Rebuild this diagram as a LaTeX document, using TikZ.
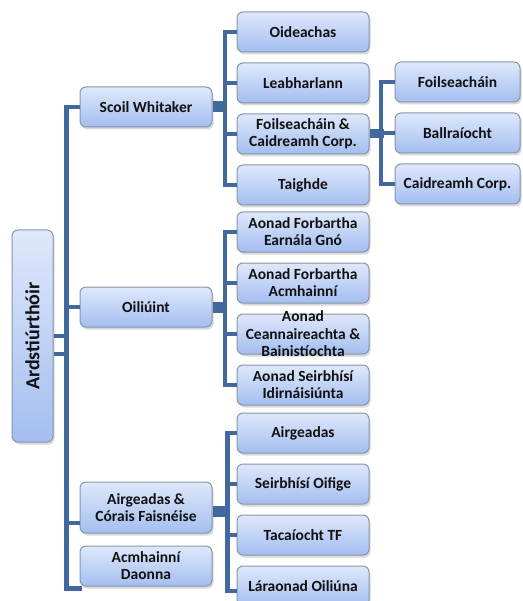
\documentclass[tikz,border=0pt]{standalone}
\usepackage{fontspec}
\setmainfont{Carlito}
\usepackage{graphicx}
\usepackage{xcolor}
\definecolor{orgLine}{HTML}{41699E}
\definecolor{orgBorder}{HTML}{8895AB}
\definecolor{orgTop}{HTML}{DFE8FB}
\definecolor{orgBottom}{HTML}{A3BEF0}
\definecolor{orgText}{HTML}{111111}
\usetikzlibrary{positioning,shadows}
\tikzset{
    unit/.style={
        draw=orgBorder,
        top color=orgTop,
        bottom color=orgBottom,
        rectangle,
        rounded corners=6pt,
        align=center,
        minimum height=40pt,
        minimum width=132pt,
        inner sep=0pt,
        line width=1pt,
        drop shadow={opacity=0.3, shadow xshift=1.5pt, shadow yshift=-2.5pt},
        text=orgText,
        font=\fontsize{15.5}{17}\selectfont\bfseries
    },
    leaf/.style={
        unit,
        minimum width=125pt
    },
    link/.style={
        line width=4.5pt,
        color=orgLine
    },
    trunk/.style={
        line width=11pt,
        color=orgLine
    }
}

\begin{document}
\begin{tikzpicture}[x=1pt, y=-1pt, node distance=10pt]
    \useasboundingbox (0,0) rectangle (522,601);

    % top
    \node[unit, minimum width=41pt, minimum height=212pt, font=\fontsize{20}{22}\selectfont\bfseries]
        (root) at (32.5,336) {\rotatebox{90}{Ardstiúrthóir}};

    % first level
    \node[unit] (scoil) at (146,107) {Scoil Whitaker};
    \node[unit] (oiliuint) at (146,307) {Oiliúint};
    \node[unit, minimum height=51pt] (airgcorais) at (146,507.5) {Airgeadas \&\\Córais Faisnéise};
    \node[unit, below=12pt of airgcorais] (acmhainni) {Acmhainní\\Daonna};

    % Scoil Whitaker
    \node[unit] (oideachas) at (303,32) {Oideachas};
    \node[unit, below=of oideachas] (leabharlann) {Leabharlann};
    \node[unit, below=of leabharlann] (foilcaid) {Foilseacháin \&\\Caidreamh Corp.};
    \node[unit, below=of foilcaid] (taighde) {Taighde};

    \node[leaf] (foilseachain) at (457.5,82) {Foilseacháin};
    \node[leaf, below=of foilseachain] (ballraiocht) {Ballraíocht};
    \node[leaf, below=of ballraiocht] (caidreamh) {Caidreamh Corp.};

    % Oiliúint
    \node[unit] (earnala) at (303,232) {Aonad Forbartha\\Earnála Gnó};
    \node[unit, below=of earnala] (forbartha) {Aonad Forbartha\\Acmhainní};
    \node[unit, below=of forbartha,
        label={[align=center, text=orgText, font=\fontsize{15.5}{17.5}\selectfont\bfseries]center:Aonad\\Ceannaireachta \&\\Bainistíochta}]
        (ceannair) {};
    \node[unit, below=of ceannair] (idirnaisiunta) {Aonad Seirbhísí\\Idirnáisiúnta};

    % Airgeadas & Córais Faisnéise
    \node[unit] (airgeadas) at (303,433) {Airgeadas};
    \node[unit, below=of airgeadas] (oifige) {Seirbhísí Oifige};
    \node[unit, below=of oifige] (tacaiocht) {Tacaíocht TF};
    \node[unit, below=of tacaiocht] (laraonad) {Láraonad Oiliúna};

    % connectors
    \draw[link] (root.east) -- ++(14pt,0);
    \draw[link] ([yshift=-18pt]root.east) -- ++(14pt,0);
    \draw[link] (scoil.west) -- ++(-13pt,0) |- ([xshift=2pt, yshift=-2pt]acmhainni.south west);
    \draw[link] (oiliuint.west) -- ++(-13pt,0);
    \draw[link] ([yshift=-15.5pt]airgcorais.west) -- ++(-13pt,0);

    \draw[trunk] (scoil.east) -- ++(14pt,0);
    \draw[link] (oideachas.west) -- ++(-11.5pt,0) |- (taighde.west);
    \foreach \n in {leabharlann,foilcaid}
        \draw[link] (\n.west) -- ++(-11.5pt,0);

    \draw[trunk, line width=9pt] (foilcaid.east) -- ++(14pt,0);
    \draw[link] (foilseachain.west) -- ++(-13.5pt,0) |- (caidreamh.west);
    \draw[link] (ballraiocht.west) -- ++(-13.5pt,0);

    \draw[trunk] (oiliuint.east) -- ++(14pt,0);
    \draw[link] (earnala.west) -- ++(-11.5pt,0) |- (idirnaisiunta.west);
    \foreach \n in {forbartha,ceannair}
        \draw[link] (\n.west) -- ++(-11.5pt,0);

    \draw[trunk] ([yshift=-4pt]airgcorais.east) -- ++(14pt,0);
    \draw[link] (airgeadas.west) -- ++(-9pt,0) |- ([yshift=-5pt]laraonad.west);
    \foreach \n in {oifige,tacaiocht}
        \draw[link] (\n.west) -- ++(-9pt,0);
\end{tikzpicture}
\end{document}
